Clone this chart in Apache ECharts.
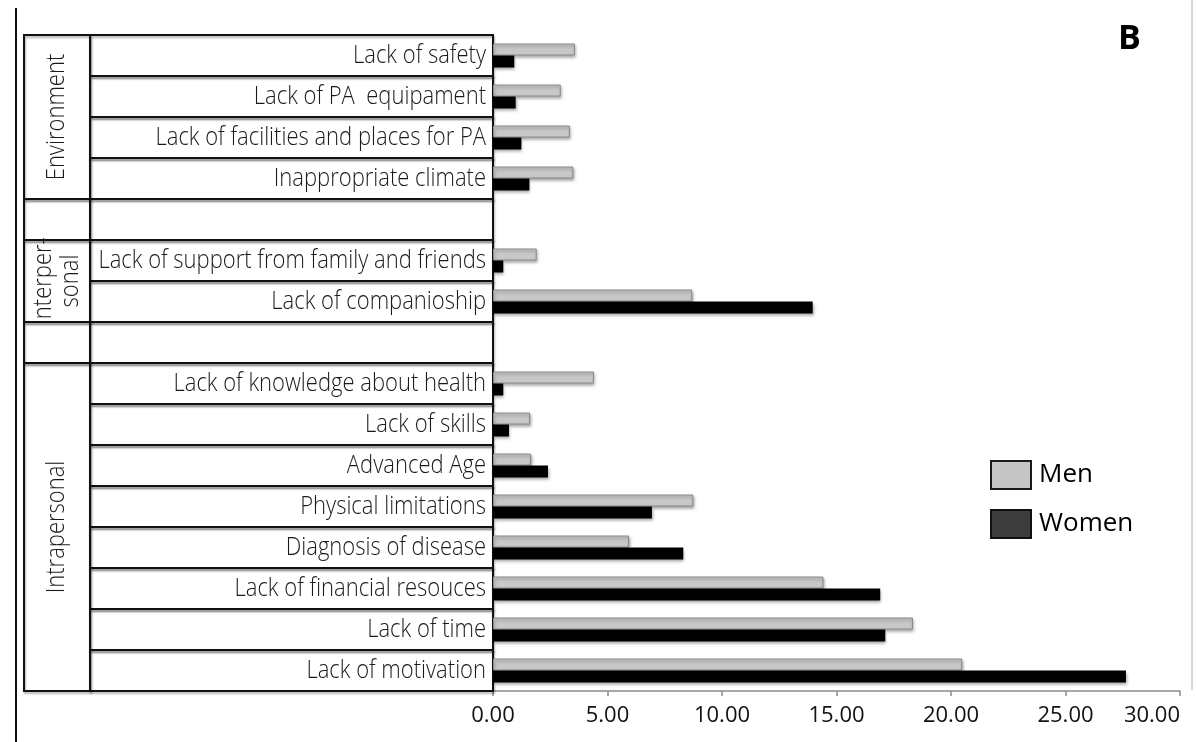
<!DOCTYPE html>
<html>
<head>
<meta charset="utf-8">
<script src="https://cdn.jsdelivr.net/npm/echarts@6/dist/echarts.min.js"></script>
<style>
  html, body { margin: 0; padding: 0; background: #fff; }
  #chart { width: 1196px; height: 742px; }
</style>
</head>
<body>
<div id="chart"></div>
<script>
// categories top to bottom, blank rows separate the groups
const categories = [
  'Lack of safety',
  'Lack of PA  equipament',
  'Lack of facilities and places for PA',
  'Inappropriate climate',
  ' ',
  'Lack of support from family and friends',
  'Lack of companioship',
  '  ',
  'Lack of knowledge about health',
  'Lack of skills',
  'Advanced Age',
  'Physical limitations',
  'Diagnosis of disease',
  'Lack of financial resouces',
  'Lack of time',
  'Lack of motivation'
];
const menValues = [3.58, 2.96, 3.36, 3.51, null, 1.91, 8.7, null, 4.41, 1.62, 1.66, 8.75, 5.94, 14.43, 18.34, 20.49];
const womenValues = [0.93, 0.99, 1.24, 1.59, null, 0.45, 13.96, null, 0.45, 0.7, 2.4, 6.94, 8.31, 16.91, 17.13, 27.64];

// group column: name, first row, last row
const groupNames = ['Environment', '', 'Interper-\nsonal', '', 'Intrapersonal'];
const groupFirst = [0, 4, 5, 7, 8];
const groupLast = [3, 4, 6, 7, 15];

const xMin = 0;
const xMax = 30;
const xStep = 5;

const TABLE_LEFT = 24;
const NAME_LEFT = 90;
// the original uses a condensed font, squeeze Open Sans a bit
const TEXT_SQUEEZE = 0.88;
const labelFont = '300 25px "Open Sans", sans-serif';
const borderStyle = {
  fill: 'none',
  stroke: '#111',
  lineWidth: 2,
  shadowColor: 'rgba(0,0,0,0.3)',
  shadowBlur: 2,
  shadowOffsetX: 1,
  shadowOffsetY: 2
};

const chart = echarts.init(document.getElementById('chart'));

function renderRow (params, api) {
  const idx = api.value(1);
  const c = api.coord([0, idx]);
  const band = api.size([0, 1])[1];
  return {
    type: 'group',
    children: [
      {
        type: 'rect',
        shape: { x: NAME_LEFT, y: c[1] - band / 2, width: c[0] - NAME_LEFT, height: band },
        style: borderStyle
      },
      {
        type: 'text',
        x: c[0] - 7,
        y: c[1],
        scaleX: TEXT_SQUEEZE,
        style: {
          text: categories[idx].trim(),
          align: 'right', verticalAlign: 'middle',
          font: labelFont, fill: '#1a1a1a'
        }
      }
    ]
  };
}

function renderGroup (params, api) {
  const first = api.value(1);
  const last = api.value(2);
  const band = api.size([0, 1])[1];
  const top = api.coord([0, first])[1] - band / 2;
  const bottom = api.coord([0, last])[1] + band / 2;
  return {
    type: 'group',
    children: [
      {
        type: 'rect',
        shape: { x: TABLE_LEFT, y: top, width: NAME_LEFT - TABLE_LEFT, height: bottom - top },
        style: borderStyle
      },
      {
        type: 'text',
        x: (TABLE_LEFT + NAME_LEFT) / 2,
        y: (top + bottom) / 2,
        rotation: Math.PI / 2,
        scaleX: TEXT_SQUEEZE,
        style: {
          text: groupNames[params.dataIndex],
          align: 'center', verticalAlign: 'middle',
          font: labelFont, lineHeight: 27, fill: '#1a1a1a'
        }
      }
    ]
  };
}

const rowData = categories.map((c, i) => [0, i]);
const groupData = groupNames.map((g, i) => [0, groupFirst[i], groupLast[i]]);

const option = {
  animation: false,
  backgroundColor: '#fff',
  grid: {
    left: 493,
    right: 16,
    top: 35,
    bottom: 51,
    outerBoundsMode: 'none'
  },
  legend: {
    orient: 'vertical',
    left: 985,
    top: 455,
    itemWidth: 40,
    itemHeight: 28,
    itemGap: 19,
    icon: 'rect',
    textStyle: {
      fontFamily: 'Open Sans',
      fontSize: 26,
      color: '#000',
      padding: [0, 0, 0, 3]
    },
    data: [
      { name: 'Men', itemStyle: { color: '#c6c6c6', borderColor: '#1a1a1a', borderWidth: 2 } },
      { name: 'Women', itemStyle: { color: '#3c3c3c', borderColor: '#111', borderWidth: 2 } }
    ]
  },
  graphic: [
    {
      type: 'line',
      shape: { x1: 16, y1: 8, x2: 16, y2: 742 },
      style: { stroke: '#111', lineWidth: 2 }
    },
    {
      type: 'line',
      shape: { x1: 1192, y1: 0, x2: 1192, y2: 690 },
      style: { stroke: '#b0b0b0', lineWidth: 1 }
    },
    {
      type: 'text',
      left: 1118,
      top: 22,
      style: {
        text: 'B',
        font: 'bold 34px "Open Sans", sans-serif',
        fill: '#000'
      }
    }
  ],
  xAxis: {
    type: 'value',
    min: xMin,
    max: xMax,
    interval: xStep,
    splitLine: { show: false },
    axisLine: { show: true, lineStyle: { color: '#8c8c8c', width: 1.5 } },
    axisTick: { show: true, length: 5, lineStyle: { color: '#8c8c8c', width: 1.5 } },
    axisLabel: {
      margin: 14,
      fontFamily: 'Open Sans',
      fontSize: 22,
      color: '#111',
      alignMaxLabel: 'right',
      formatter: v => v.toFixed(2)
    }
  },
  yAxis: {
    type: 'category',
    inverse: true,
    data: categories,
    axisLine: { show: false },
    axisTick: { show: false },
    axisLabel: { show: false },
    splitLine: { show: false }
  },
  series: [
    {
      type: 'custom',
      name: 'rows',
      renderItem: renderRow,
      encode: { x: 0, y: 1 },
      data: rowData,
      silent: true,
      z: 1
    },
    {
      type: 'custom',
      name: 'groups',
      renderItem: renderGroup,
      encode: { x: 0, y: 1 },
      data: groupData,
      silent: true,
      z: 1
    },
    {
      name: 'Men',
      type: 'bar',
      data: menValues,
      barWidth: 12,
      barGap: '0%',
      z: 3,
      itemStyle: {
        color: '#c8c8c8',
        borderColor: '#8a8a8a',
        borderWidth: 1,
        shadowColor: 'rgba(0,0,0,0.35)',
        shadowBlur: 3,
        shadowOffsetX: 1,
        shadowOffsetY: 2
      }
    },
    {
      name: 'Women',
      type: 'bar',
      data: womenValues,
      barWidth: 12,
      barGap: '0%',
      z: 3,
      itemStyle: {
        color: '#000',
        shadowColor: 'rgba(0,0,0,0.35)',
        shadowBlur: 3,
        shadowOffsetX: 1,
        shadowOffsetY: 2
      }
    }
  ]
};

chart.setOption(option);
window.onresize = () => chart.resize();
</script>
</body>
</html>
